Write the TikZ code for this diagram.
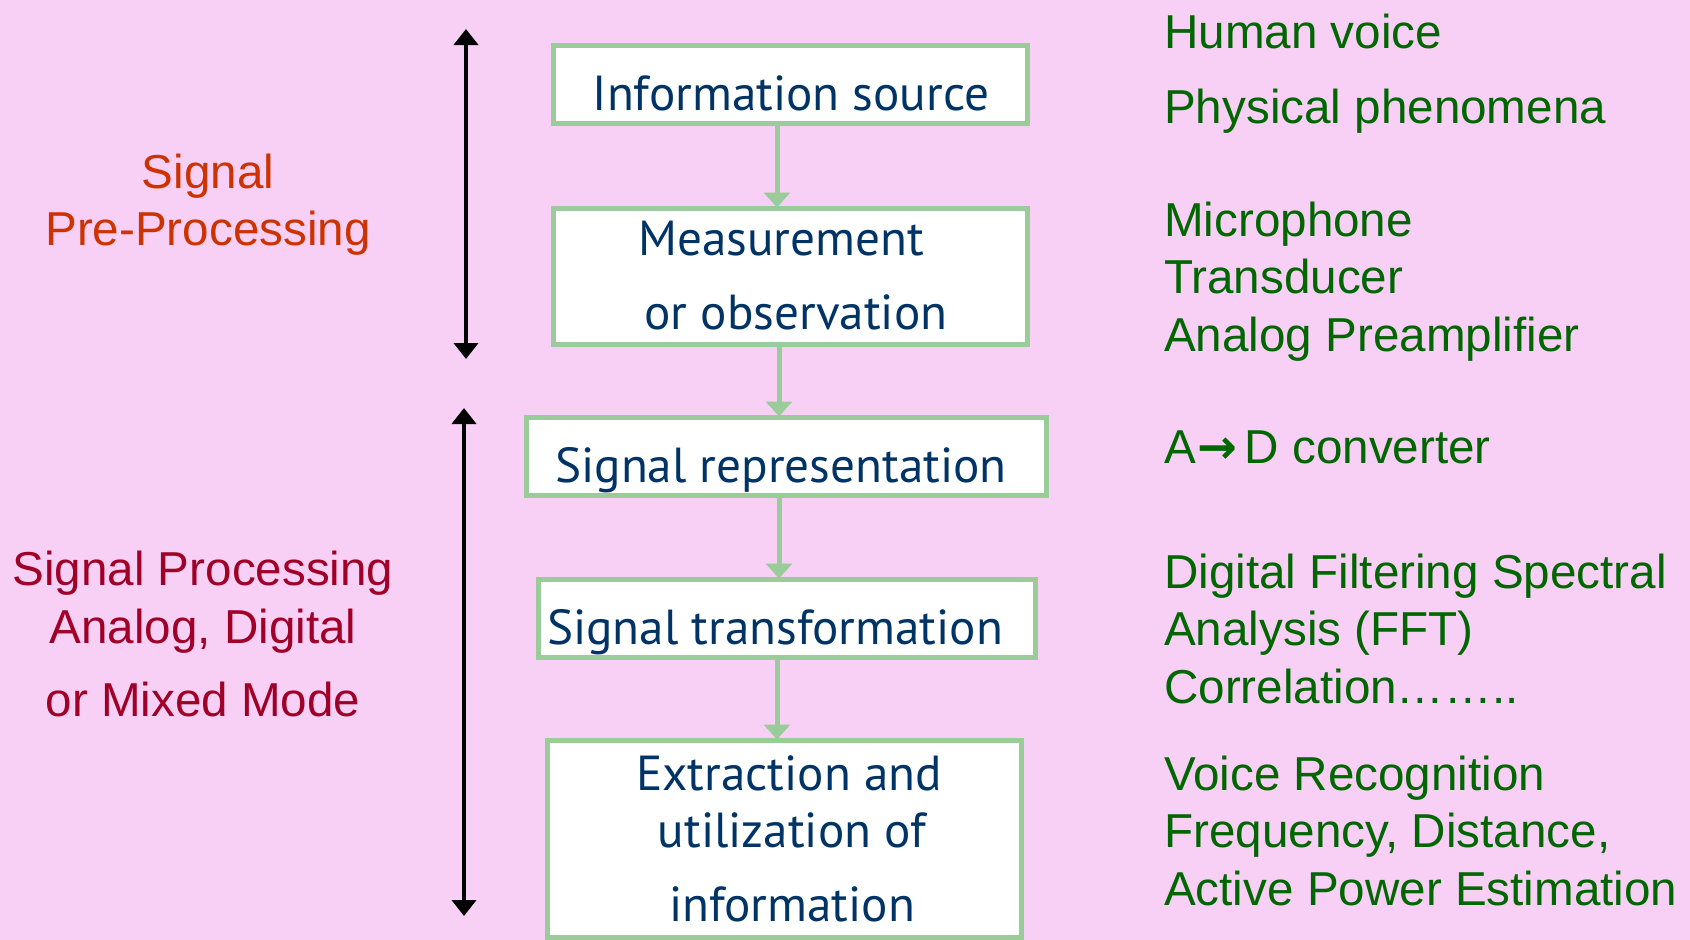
\documentclass[tikz,border=0pt]{standalone}
\usepackage{fontspec}
\setmainfont{Liberation Sans}
\newfontfamily\boxfont{PT Sans}
\newfontfamily\arrowfont{DejaVu Sans}
\usetikzlibrary{arrows.meta}
\definecolor{bgpink}{RGB}{248,208,245}
\definecolor{boxgreen}{RGB}{153,204,153}
\definecolor{navy}{RGB}{0,51,102}
\definecolor{dkgreen}{RGB}{0,102,0}
\definecolor{orred}{RGB}{204,51,0}
\definecolor{crimson}{RGB}{160,0,40}
\begin{document}
\begin{tikzpicture}[x=1pt,y=-1pt,
  stagebox/.style={draw=boxgreen, line width=5pt, fill=white, inner sep=0pt},
  boxtext/.style={anchor=base, text=navy, inner sep=0pt, font=\boxfont\fontsize{49.2pt}{58pt}\selectfont},
  sidetext/.style={anchor=base west, text=dkgreen, inner sep=0pt, font=\fontsize{47.6pt}{57pt}\selectfont},
  lefttext/.style={anchor=base, inner sep=0pt, font=\fontsize{47.6pt}{57pt}\selectfont},
  garrow/.style={draw=boxgreen, line width=5pt, -{Triangle[width=26pt,length=15pt]}},
  barrow/.style={draw=black, line width=4.5pt, {Triangle[width=24pt,length=16pt]}-{Triangle[width=24pt,length=16pt]}}
]
\useasboundingbox (0,0) rectangle (1690,940);
\fill[bgpink] (0,0) rectangle (1690,940);

\coordinate (axA) at (777,0);
\coordinate (axB) at (779,0);

% boxes
\node[stagebox, minimum width=474pt, minimum height=78pt] (b1) at (790.5,84.5) {};
\node[stagebox, minimum width=474pt, minimum height=136pt] (b2) at (790.5,276.5) {};
\node[stagebox, minimum width=520pt, minimum height=78pt] (b3) at (786.5,456.5) {};
\node[stagebox, minimum width=497pt, minimum height=78pt] (b4) at (787,618.5) {};
\node[stagebox, minimum width=474pt, minimum height=197pt] (b5) at (784.5,839) {};

% connectors
\draw[garrow] (b1.south -| axA) -- ([yshift=-1.5pt]b2.north -| axA);
\draw[garrow] (b2.south -| axB) -- ([yshift=-1.5pt]b3.north -| axB);
\draw[garrow] (b3.south -| axB) -- ([yshift=-1.5pt]b4.north -| axB);
\draw[garrow] (b4.south -| axA) -- ([yshift=-1.5pt]b5.north -| axA);

% box texts
\node[boxtext] (t1) at (791,110) {Information source};
\node[boxtext] (t2a) at (781,255) {Measurement};
\node[boxtext] (t2b) at (796,329) {or observation};
\node[boxtext] (t3) at (781,482) {Signal representation};
\node[boxtext] (t4) at (775,644) {Signal transformation};
\node[boxtext] (t5a) at (789,790) {Extraction and};
\node[boxtext] (t5b) at (792,847) {utilization of};
\node[boxtext] (t5c) at (792,921) {information};

% black range arrows
\coordinate (r1a) at (466,29);
\coordinate (r1b) at (466,359);
\coordinate (r2a) at (464,408);
\coordinate (r2b) at (464,916);
\draw[barrow] (r1a) -- (r1b);
\draw[barrow] (r2a) -- (r2b);

% left labels
\node[lefttext, text=orred] (l1) at (208,188) {Signal};
\node[lefttext, text=orred] (l2) at (208,245) {Pre-Processing};
\node[lefttext, text=crimson] (l3) at (203,585) {Signal Processing};
\node[lefttext, text=crimson] (l4) at (203,643) {Analog, Digital};
\node[lefttext, text=crimson] (l5) at (203,716) {or Mixed Mode};

% right labels
\node[sidetext] (s1) at (1164,48) {Human voice};
\node[sidetext] (s2) at (1164,123) {Physical phenomena};
\node[sidetext] (s3) at (1164,236) {Microphone};
\node[sidetext] (s4) at (1164,293) {Transducer};
\node[sidetext] (s5) at (1164,351) {Analog Preamplifier};
\node[sidetext] (s6) at (1164,463) {A\kern2pt{\arrowfont\bfseries →}\kern7pt D converter};
\node[sidetext] (s7) at (1164,588) {Digital Filtering Spectral};
\node[sidetext] (s8) at (1164,645) {Analysis (FFT)};
\node[sidetext] (s9) at (1164,703) {Correlation……..};
\node[sidetext] (s10) at (1164,790) {Voice Recognition};
\node[sidetext] (s11) at (1164,847) {Frequency, Distance,};
\node[sidetext] (s12) at (1164,905) {Active Power Estimation};
\end{tikzpicture}
\end{document}
